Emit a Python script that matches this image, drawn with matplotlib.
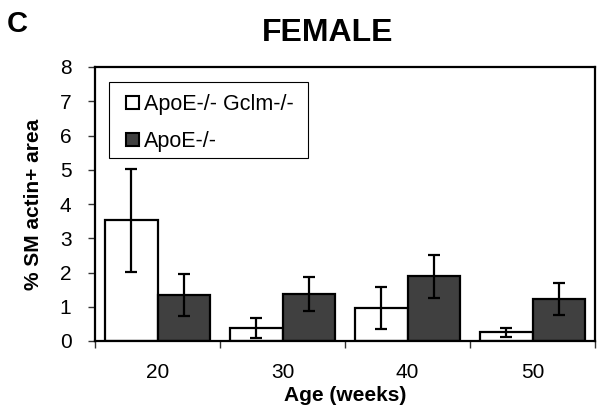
import matplotlib
matplotlib.use("Agg")
import matplotlib.pyplot as plt
from matplotlib.patches import Rectangle
import numpy as np

plt.rcParams['font.family'] = ['Liberation Sans', 'DejaVu Sans']

categories = ["20", "30", "40", "50"]
series_names = ["ApoE-/- Gclm-/-", "ApoE-/-"]
dko_values = [3.52, 0.38, 0.97, 0.26]
dko_errors = [1.5, 0.28, 0.61, 0.13]
apoe_values = [1.35, 1.38, 1.89, 1.22]
apoe_errors = [0.61, 0.5, 0.63, 0.47]
yticks = [0, 1, 2, 3, 4, 5, 6, 7, 8]

fig = plt.figure(figsize=(5.99, 4.17), dpi=100)
ax = fig.add_axes([95/599, 1-341/417, 500/599, (341-67)/417])

x = np.arange(len(categories))
w = 0.42
err_kw = dict(ecolor='black', elinewidth=1.6, capsize=4.3, capthick=1.6)
ax.bar(x - w/2, dko_values, w, yerr=dko_errors, color='white', edgecolor='black',
       linewidth=1.6, error_kw=err_kw, label=series_names[0], zorder=2)
ax.bar(x + w/2, apoe_values, w, yerr=apoe_errors, color='#404040', edgecolor='black',
       linewidth=1.6, error_kw=err_kw, label=series_names[1], zorder=2)

ax.set_xlim(-0.5, len(categories) - 0.5)
ax.set_ylim(0, 8)
ax.set_yticks(yticks)
ax.set_xticks(np.arange(len(categories) + 1) - 0.5)
ax.set_xticklabels([])
ax.set_xticks(x, minor=True)
ax.set_xticklabels(categories, minor=True)
ax.tick_params(axis='x', which='minor', length=0, pad=16, labelsize=15)
ax.tick_params(axis='x', which='major', length=5, width=1, direction='out', color='#333333')
ax.tick_params(axis='y', length=5, width=1, direction='out', labelsize=15, color='#333333', pad=12)

for s in ax.spines.values():
    s.set_linewidth(1.6)
    s.set_color('black')

ax.set_xlabel("Age (weeks)", fontsize=15, fontweight='bold', labelpad=3)
ax.set_ylabel("% SM actin+ area", fontsize=15, fontweight='bold', labelpad=12)

# legend frame drawn separately for asymmetric padding
ax.add_patch(Rectangle((14/500, 1 - 91/274), 199/500, 76/274, transform=ax.transAxes,
                       facecolor='white', edgecolor='black', linewidth=0.8, zorder=4))
leg = ax.legend(loc='upper left', bbox_to_anchor=(31/500, 1 - 27/274), fontsize=15.5,
                frameon=False, handlelength=0.6, handleheight=0.6, handletextpad=0.25,
                labelspacing=0.75, borderpad=0, borderaxespad=0)
leg.set_zorder(5)
for h in leg.legend_handles:
    h.set_linewidth(1.5)

fig.text(328/599, 1 - 33/417, "FEMALE", fontsize=23, fontweight='bold', ha='center', va='center')
fig.text(17/599, 1 - 24/417, "C", fontsize=21, fontweight='bold', ha='center', va='center')

fig.savefig("out.png", dpi=100)
